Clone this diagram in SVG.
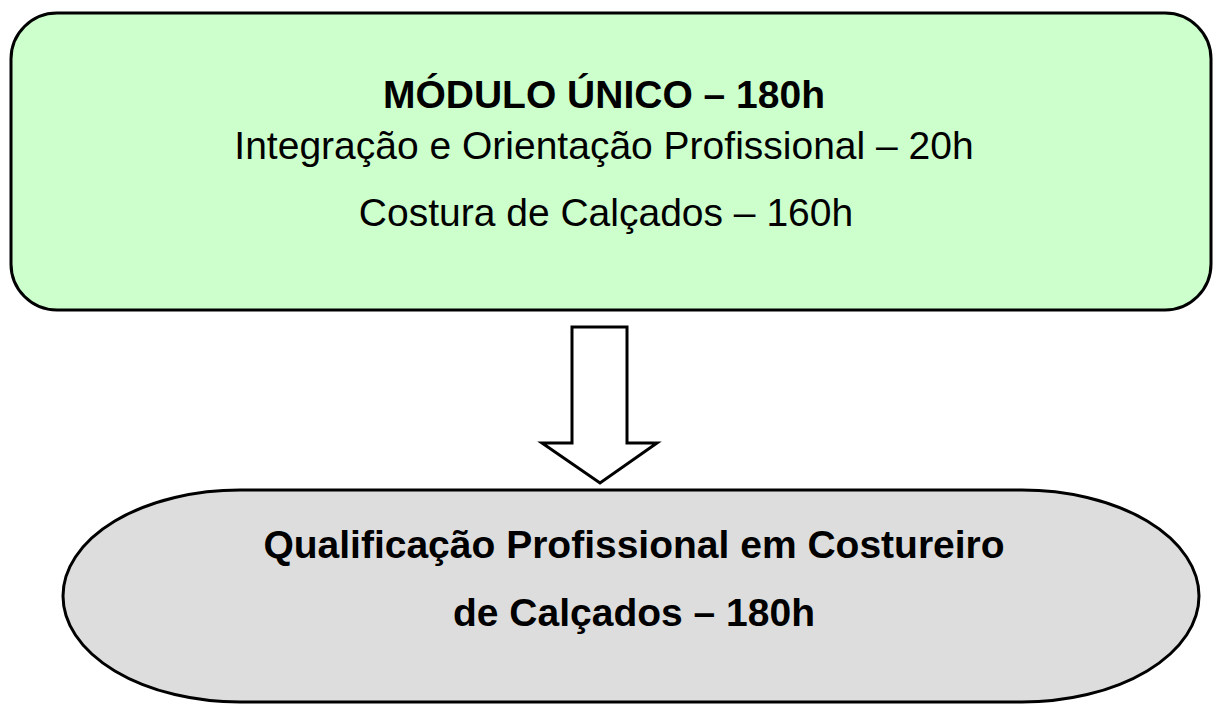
<svg xmlns="http://www.w3.org/2000/svg" width="1215" height="704" viewBox="0 0 1215 704">
<style>
.t{font-family:"Liberation Sans",Arial,sans-serif;fill:#000;text-anchor:middle;font-size:39px}
.b{font-weight:bold}
.shape{stroke:#000;stroke-width:3}
</style>
<rect width="1215" height="704" fill="#fff"/>
<g id="modulo">
<rect class="shape" x="11" y="13" width="1200" height="297" rx="46" ry="46" fill="#ccffcc"/>
<text class="t b" x="604" y="108">MÓDULO ÚNICO – 180h</text>
<text class="t" x="604" y="159">Integração e Orientação Profissional – 20h</text>
<text class="t" x="606" y="226">Costura de Calçados – 160h</text>
</g>
<g id="connectors">
<path class="shape" d="M572,327 H627 V443 H657 L600,483 L542,443 H572 Z" fill="#fff" stroke-linejoin="miter"/>
</g>
<g id="qualificacao">
<path class="shape" d="M240,490 H1022 A177,106 0 0 1 1022,702 H240 A177,106 0 0 1 240,490 Z" fill="#dddddd"/>
<text class="t b" x="634" y="558">Qualificação Profissional em Costureiro</text>
<text class="t b" x="634" y="626">de Calçados – 180h</text>
</g>
</svg>
